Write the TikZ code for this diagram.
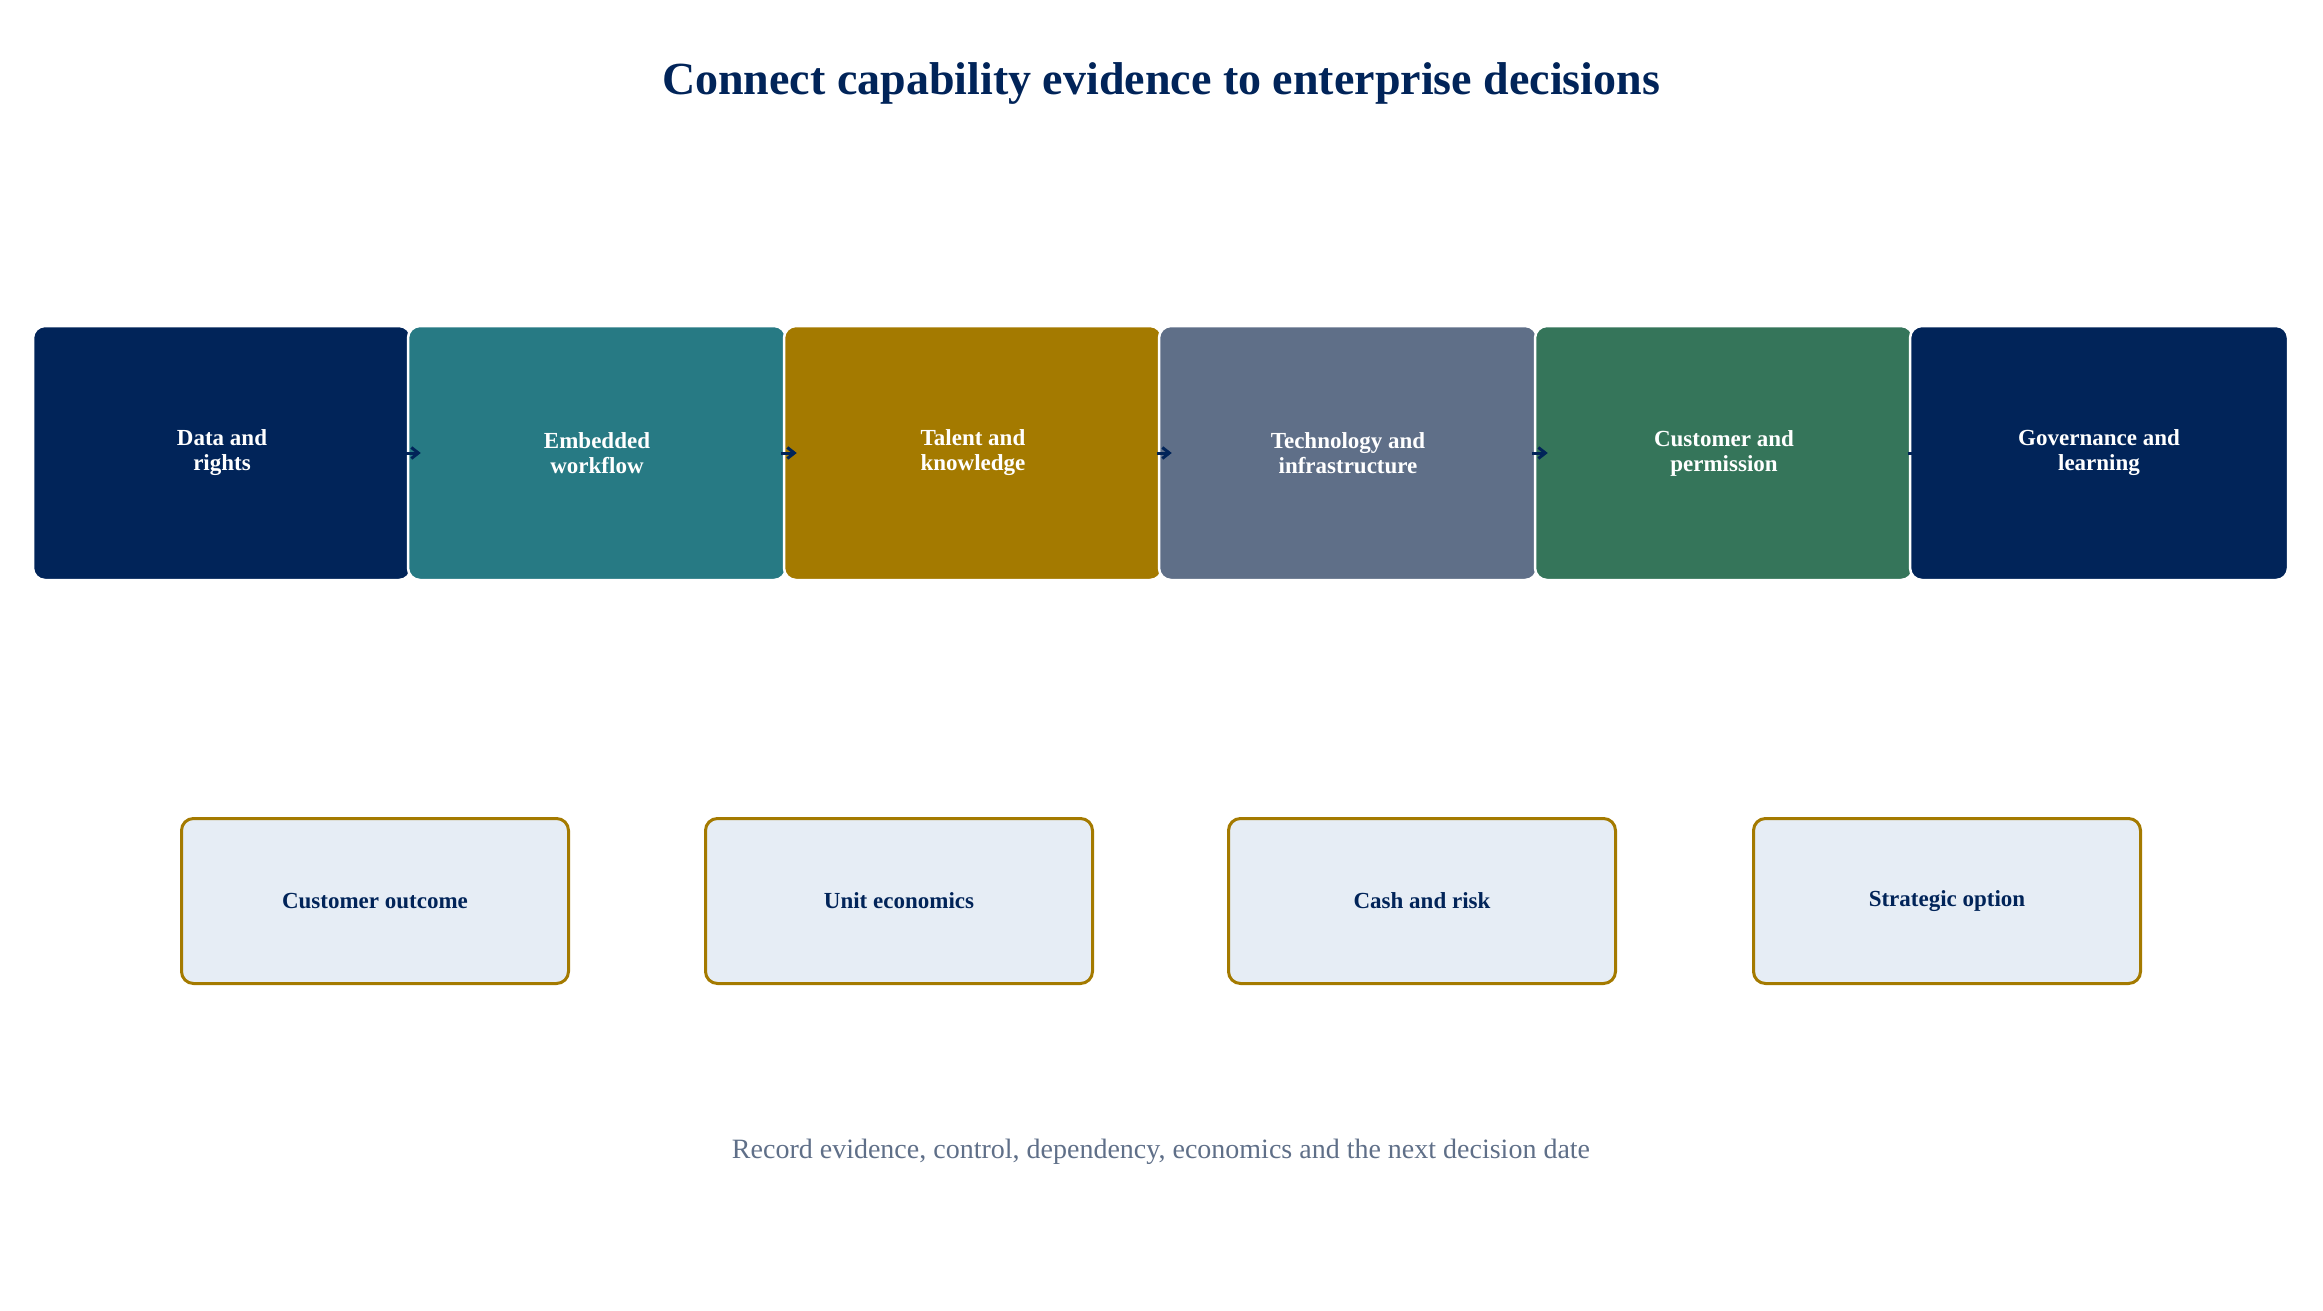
\documentclass[tikz,border=0pt]{standalone}
\usepackage{fontspec}
\setmainfont{Liberation Serif}
\usetikzlibrary{arrows.meta}
\definecolor{navy}{HTML}{012459}
\definecolor{teal}{HTML}{277A84}
\definecolor{gold}{HTML}{A47A00}
\definecolor{slate}{HTML}{5F6F88}
\definecolor{grn}{HTML}{35755A}
\definecolor{pale}{HTML}{E6EDF5}
\begin{document}
\begin{tikzpicture}[x=1pt,y=-1pt,
 top/.style={draw=white,line width=2.5pt,rounded corners=12pt,minimum width=378pt,minimum height=254pt,text=white,font=\fontsize{23}{25}\selectfont\bfseries,align=center},
 bot/.style={draw=gold,fill=pale,line width=3pt,rounded corners=12pt,minimum width=387pt,minimum height=165pt,text=navy,font=\fontsize{23}{25}\selectfont\bfseries},
 arr/.style={-{Straight Barb[length=7pt,width=11pt,line width=3pt]},draw=navy,line width=3pt}]
\useasboundingbox (0,0) rectangle (2323,1311);
\node[text=navy,font=\fontsize{46}{50}\selectfont\bfseries] (title) at (1161,84) {Connect capability evidence to enterprise decisions};
\node[top,fill=navy] (a) at (222,453) {Data and\\rights};
\node[top,fill=teal] (b) at (597,453) {Embedded\\workflow};
\node[top,fill=gold] (c) at (973,453) {Talent and\\knowledge};
\node[top,fill=slate] (d) at (1348,453) {Technology and\\infrastructure};
\node[top,fill=grn] (e) at (1724,453) {Customer and\\permission};
\node[top,fill=navy] (f) at (2099,453) {Governance and\\learning};
\foreach \p/\q in {a/b,b/c,c/d,d/e,e/f}
  \draw[arr] ([xshift=-6pt]\p.east) -- ([xshift=14pt]\q.west);
\node[bot] (g) at (375,901) {Customer outcome};
\node[bot] (h) at (899,901) {Unit economics};
\node[bot] (i) at (1422,901) {Cash and risk};
\node[bot] (j) at (1947,901) {Strategic option};
\node[text=slate,font=\fontsize{28}{30}\selectfont] (foot) at (1161,1152) {Record evidence, control, dependency, economics and the next decision date};
\end{tikzpicture}
\end{document}
